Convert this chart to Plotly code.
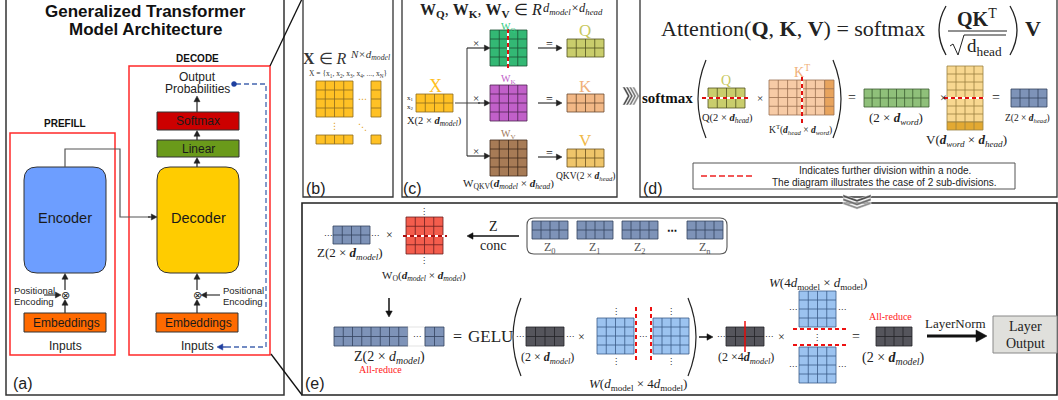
import math
import plotly.graph_objects as go

SANS = "Liberation Sans, Arial, sans-serif"
SERIF = "Liberation Serif, Times New Roman, serif"
SYM = "DejaVu Sans, sans-serif"

# ---------------- data (texts and matrix dimensions) ----------------
TITLE_LINES = ["Generalized Transformer", "Model Architecture"]
STAGE_LABELS = ["PREFILL", "DECODE"]
DECODER_STACK = ["Softmax", "Linear", "Decoder"]
ENCODER_LABEL = "Encoder"
EMBED_LABEL = "Embeddings"
POS_ENC_LINES = ["Positional", "Encoding"]
OUTPUT_LINES = ["Output", "Probabilities"]
INPUT_LABEL = "Inputs"
PANEL_LABELS = ["(a)", "(b)", "(c)", "(d)", "(e)"]
LEGEND_LINES = ["Indicates further division within a node.",
                "The diagram illustrates the case of 2 sub-divisions."]
ALL_REDUCE = "All-reduce"
Z_PARTS = ["Z<sub>0</sub>", "Z<sub>1</sub>", "Z<sub>2</sub>", "Z<sub>n</sub>"]
W_LABELS = ["W<sub>Q</sub>", "W<sub>K</sub>", "W<sub>V</sub>"]
QKV_LABELS = ["Q", "K", "V"]

MATRIX_NAMES = ["b_main", "b_col", "b_row", "b_cell",
                "c_X", "c_WQ", "c_WK", "c_WV", "c_Q", "c_K", "c_V",
                "d_Q", "d_KT", "d_KT_last", "d_S", "d_V", "d_V_last", "d_Z",
                "e_Z", "e_WO", "e_Z0", "e_Z1", "e_Z2", "e_Zn",
                "e_ZL_a", "e_ZL_b", "e_H", "e_W1a", "e_W1b",
                "e_H2", "e_W2a", "e_W2b", "e_out"]
MATRIX_ROWS = [4, 4, 1, 1,
               2, 4, 4, 4, 2, 2, 2,
               2, 4, 4, 2, 7, 1, 2,
               2, 4, 2, 2, 2, 2,
               2, 2, 2, 4, 4,
               2, 4, 4, 2]
MATRIX_COLS = [4, 1, 4, 1,
               4, 4, 4, 4, 4, 4, 4,
               4, 6, 1, 8, 4, 4, 4,
               4, 4, 4, 4, 4, 4,
               8, 2, 4, 4, 4,
               4, 4, 4, 4]

# ---------------- geometry / styles ----------------
BOX = {
    "b_main": (316, 81, 353, 117), "b_col": (371, 81, 381, 117),
    "b_row": (316, 135, 353, 144), "b_cell": (371, 135, 381, 144),
    "c_X": (416, 94, 453, 112),
    "c_WQ": (490, 30, 527, 66), "c_WK": (490, 85, 527, 121), "c_WV": (490, 140, 527, 176),
    "c_Q": (567, 39, 604, 57), "c_K": (567, 94, 604, 112), "c_V": (567, 149, 604, 167),
    "d_Q": (708, 88, 745, 108), "d_KT": (769, 80, 824.7, 115), "d_KT_last": (824.7, 80, 834, 115),
    "d_S": (864, 89, 929, 107), "d_V": (947, 66, 983, 122), "d_V_last": (947, 122, 983, 130),
    "d_Z": (1011, 89, 1047, 107),
    "e_Z": (333, 226, 370, 244), "e_WO": (406, 217, 443, 254),
    "e_Z0": (532, 221, 568, 239), "e_Z1": (577, 221, 613, 239),
    "e_Z2": (622, 221, 658, 239), "e_Zn": (687, 221, 723, 239),
    "e_ZL_a": (334, 327, 408, 346), "e_ZL_b": (425, 327, 444, 346),
    "e_H": (526, 327, 564, 346), "e_W1a": (597, 318, 634, 354), "e_W1b": (653, 318, 689, 354),
    "e_H2": (726, 327, 764, 346), "e_W2a": (799, 291, 836, 327), "e_W2b": (799, 347, 836, 383),
    "e_out": (876, 327, 912, 346),
}
YEL = ("#ffc125", "#8a6a20")
STYLE = {
    "b_main": YEL, "b_col": YEL, "b_row": YEL, "b_cell": YEL, "c_X": YEL,
    "c_WQ": ("#33b874", "#1d4f34"), "c_WK": ("#c160c9", "#4e2352"), "c_WV": ("#a77b56", "#3f2a1a"),
    "c_Q": ("#c9cd6c", "#505020"), "c_K": ("#f2b886", "#6a4a30"), "c_V": ("#efc56a", "#6a5020"),
    "d_Q": ("#c9cd6c", "#505020"), "d_KT": ("#f7cba6", "#9a7050"), "d_KT_last": ("#e8a45e", "#9a7050"),
    "d_S": ("#8fc07a", "#3a5a30"), "d_V": ("#f8d890", "#9a8040"), "d_V_last": ("#e2a932", "#9a8040"),
    "d_Z": ("#7e93b8", "#34435e"),
}
for _n in ["e_Z", "e_Z0", "e_Z1", "e_Z2", "e_Zn", "e_ZL_a", "e_ZL_b"]:
    STYLE[_n] = ("#7e93b8", "#34435e")
STYLE["e_WO"] = ("#f45d4d", "#6a2020")
for _n in ["e_H", "e_H2", "e_out"]:
    STYLE[_n] = ("#55555c", "#222226")
for _n in ["e_W1a", "e_W1b", "e_W2a", "e_W2b"]:
    STYLE[_n] = ("#9cc3f0", "#3a5a88")

shapes, annos = [], []


def rect(x0, y0, x1, y1, fill="rgba(0,0,0,0)", line="#222", w=1.0, dash="solid"):
    shapes.append(dict(type="rect", xref="x", yref="y", x0=x0, y0=y0, x1=x1, y1=y1,
                       fillcolor=fill, line=dict(color=line, width=w, dash=dash)))


def seg(x0, y0, x1, y1, color="#222", w=1.0, dash="solid"):
    shapes.append(dict(type="line", xref="x", yref="y", x0=x0, y0=y0, x1=x1, y1=y1,
                       line=dict(color=color, width=w, dash=dash)))


def path(d, fill=None, line="#222", w=1.0, dash="solid"):
    s = dict(type="path", xref="x", yref="y", path=d, line=dict(color=line, width=w, dash=dash))
    if fill:
        s["fillcolor"] = fill
    shapes.append(s)


def text(x, y, s, size, color="#222", family=SERIF, xa="center", ya="middle"):
    annos.append(dict(x=x, y=y, xref="x", yref="y", text=s, showarrow=False,
                      font=dict(size=size, color=color, family=family),
                      xanchor=xa, yanchor=ya, borderpad=0))


def arrow(x0, y0, x1, y1, color="#222", w=1.2, hl=None, hw=None):
    hl = hl if hl is not None else 4.5 + w
    hw = hw if hw is not None else 2.2 + w * 0.7
    dx, dy = x1 - x0, y1 - y0
    ln = math.hypot(dx, dy)
    ux, uy = dx / ln, dy / ln
    bx, by = x1 - ux * hl, y1 - uy * hl
    seg(x0, y0, bx + ux * 0.5, by + uy * 0.5, color, w)
    px, py = -uy, ux
    path(f"M{x1:.2f},{y1:.2f} L{bx+px*hw:.2f},{by+py*hw:.2f} L{bx-px*hw:.2f},{by-py*hw:.2f} Z",
         color, color, 0.5)


def rrect(x0, y0, x1, y1, r):
    return (f"M{x0+r},{y0} L{x1-r},{y0} Q{x1},{y0} {x1},{y0+r} L{x1},{y1-r} "
            f"Q{x1},{y1} {x1-r},{y1} L{x0+r},{y1} Q{x0},{y1} {x0},{y1-r} "
            f"L{x0},{y0+r} Q{x0},{y0} {x0+r},{y0} Z")


def grid(name):
    i = MATRIX_NAMES.index(name)
    nr, nc = MATRIX_ROWS[i], MATRIX_COLS[i]
    x0, y0, x1, y1 = BOX[name]
    fill, lc = STYLE[name]
    rect(x0, y0, x1, y1, fill, lc, 0.8)
    d = ""
    for k in range(1, nc):
        x = x0 + (x1 - x0) * k / nc
        d += f"M{x:.2f},{y0} L{x:.2f},{y1} "
    for k in range(1, nr):
        y = y0 + (y1 - y0) * k / nr
        d += f"M{x0},{y:.2f} L{x1},{y:.2f} "
    if d:
        path(d, None, lc, 0.8)


def red_dash(x0, y0, x1, y1, color="#e01010", w=2.0):
    seg(x0, y0, x1, y1, "white", w)
    seg(x0, y0, x1, y1, color, w, "4px,3px")


def dots(x, y, kind="h", color="#222", size=10):
    ch = {"h": "⋯", "v": "⋮", "d": "⋱"}[kind]
    text(x, y, ch, size, color, SYM)


def dsub(base, sub, bold=True):
    b = f"<b>{base}</b>" if bold else base
    return f"<i>{b}</i><sub><i>{sub}</i></sub>"


# ================= panel (a) =================
rect(6, -2, 284, 395, line="#333", w=1.5)
text(145, 11, f"<b>{TITLE_LINES[0]}</b>", 17, "#111", SANS)
text(145, 29, f"<b>{TITLE_LINES[1]}</b>", 17, "#111", SANS)
text(65, 123, f"<b>{STAGE_LABELS[0]}</b>", 10, "#111", SANS)
text(197, 58, f"<b>{STAGE_LABELS[1]}</b>", 10, "#111", SANS)
rect(10, 133, 115, 355, line="#ff2a2a", w=1.5)
rect(129, 66, 270, 355, line="#ff2a2a", w=1.5)
text(197, 77, OUTPUT_LINES[0], 12, "#222", SANS)
text(197, 89, OUTPUT_LINES[1], 12, "#222", SANS)
# feedback dashed line
path("M236,84 L266,84 L266,347 L224,347", None, "#4466b0", 1.3, "5px,3px")
arrow(226, 347, 217, 347, "#1f3f9f", 1.3)
shapes.append(dict(type="circle", xref="x", yref="y", x0=231.5, y0=81.5, x1=236.5, y1=86.5,
                   fillcolor="#1f3f9f", line=dict(color="#1f3f9f", width=0.5)))
# decoder stack
arrow(197, 112, 197, 96)
arrow(197, 140, 197, 130.5)
arrow(197, 167, 197, 157.5)
rect(157, 112, 239, 130, "#cc0000", "#333", 1)
text(198, 121, DECODER_STACK[0], 12, "#1a1a1a", SANS)
rect(157, 140, 239, 157, "#6a9a1a", "#333", 1)
text(198, 148.5, DECODER_STACK[1], 12, "#1a1a1a", SANS)
path(rrect(157, 167, 239, 273, 13), "#ffcc00", "#333", 1)
text(198, 218, DECODER_STACK[2], 14.5, "#1a1a1a", SANS)
path(rrect(24, 167, 106, 273, 13), "#6d9eff", "#333", 1)
text(65, 218, ENCODER_LABEL, 14.5, "#1a1a1a", SANS)
path("M65,167 L65,149 L120,149 L120,217 L150,217", None, "#555", 1.2)
arrow(148, 217, 157, 217, "#222", 1.2)
for cx in [65, 197]:
    text(cx, 295, "⊗", 11, "#222", SYM)
    arrow(cx, 290, cx, 273.5, "#222", 1.2)
    arrow(cx, 313, cx, 299.5, "#222", 1.2)
    rect(cx - 41, 313, cx + 41, 332, "#ff6a00", "#333", 1)
    text(cx + 1, 322.5, EMBED_LABEL, 12, "#1a1a1a", SANS)
    text(cx, 346, INPUT_LABEL, 12, "#222", SANS)
text(13, 290, POS_ENC_LINES[0], 9.5, "#222", SANS, "left")
text(13, 301, POS_ENC_LINES[1], 9.5, "#222", SANS, "left")
arrow(44, 295, 61, 295, "#222", 1.1)
text(222, 290, POS_ENC_LINES[0], 9.5, "#222", SANS, "left")
text(222, 301, POS_ENC_LINES[1], 9.5, "#222", SANS, "left")
arrow(220, 295, 201, 295, "#222", 1.1)
text(23, 383, PANEL_LABELS[0], 16, "#222", SANS)
seg(270, 66, 302, -1, "#111", 1.3)
seg(271, 354, 302, 395, "#111", 1.3)

# ================= panel (b) =================
rect(303, -2, 393, 197, line="#333", w=1.3)
text(348, 58.5, "<b>X</b> ∈ <i>R</i>", 16, "#333", SERIF, "right")
text(349, 54.5, "<i>N×d<sub>model</sub></i>", 11, "#333", SERIF, "left")
text(348, 73.5, "X = {x<sub>1</sub>, x<sub>2</sub>, x<sub>3</sub>, x<sub>4</sub>, ..., x<sub>N</sub>}",
     7.5, "#333", SERIF)
for n in ["b_main", "b_col", "b_row", "b_cell"]:
    grid(n)
dots(362, 99, "h", "#e0a020", 9)
dots(334, 126, "v", "#e0a020", 9)
dots(362, 127, "d", "#e0a020", 9)
text(316, 188, PANEL_LABELS[1], 16, "#222", SANS)

# ================= panel (c) =================
rect(402, -2, 617, 197, line="#333", w=1.3)
text(511, 0.3, "<b>W</b><sub><b>Q</b></sub>, <b>W</b><sub><b>K</b></sub>, <b>W</b><sub><b>V</b></sub>",
     16, "#222", SERIF, "right", "top")
text(513, 0.3, "∈ <i>R</i>", 16, "#222", SERIF, "left", "top")
text(542, 0.3, "<i>d<sub>model</sub>×d<sub>head</sub></i>", 12.5, "#222", SERIF, "left", "top")
text(435, 86, "X", 18, "#ffbf1f", SERIF)
grid("c_X")
text(410, 98, "x<sub>1</sub>", 7, "#222", SERIF)
text(410, 107, "x<sub>2</sub>", 7, "#222", SERIF)
text(434, 121, "X(2 × " + dsub("d", "model") + ")", 10.5, "#222", SERIF)
path("M455,103 L480,103 M467,48 L467,156", None, "#444", 1.1)
for yy in [48, 103, 156]:
    arrow(467 if yy != 103 else 478, yy, 490, yy, "#222", 1.1)
    text(476, yy - 5, "×", 11, "#222", SERIF)
for n in ["c_WQ", "c_WK", "c_WV"]:
    grid(n)
red_dash(508, 29, 508, 68)
W_COLORS = ["#2ecc80", "#c060c8", "#a0785a"]
for lbl, yy, col in zip(W_LABELS, [27, 79, 134], W_COLORS):
    text(508, yy, lbl, 10, col, SERIF)
text(508, 184, "W<sub>QKV</sub>(" + dsub("d", "model") + " × " + dsub("d", "head") + ")", 11, "#222", SERIF)
for yy in [48, 103, 157]:
    arrow(538, yy, 562, yy, "#222", 1.1)
    text(549, yy - 4, "=", 12, "#222", SERIF)
for n in ["c_Q", "c_K", "c_V"]:
    grid(n)
QKV_COLORS = ["#c8c860", "#f0b07a", "#f0b848"]
for lbl, yy, col in zip(QKV_LABELS, [30, 86, 140], QKV_COLORS):
    text(585, yy, lbl, 17, col, SERIF)
text(585, 176, "QKV(2 × " + dsub("d", "head") + ")", 9.5, "#222", SERIF)
text(412, 188, PANEL_LABELS[2], 16, "#222", SANS)

# chevrons c -> d
for k, col in enumerate(["#4a4a4a", "#606060", "#787878", "#909090"]):
    x = 622.5 + k * 3.2
    path(f"M{x},87 L{x+5},96 L{x},105 L{x+2.4},105 L{x+7.4},96 L{x+2.4},87 Z", col, "#ffffff", 0.5)

# ================= panel (d) =================
rect(640, -2, 1057, 197, line="#333", w=1.3)
text(926, 28, "Attention(<b>Q</b>, <b>K</b>, <b>V</b>) = softmax", 22, "#222", SERIF, "right")
path("M946,6 Q932,30 946,55", None, "#222", 1.3)
text(977, 18, "<b>QK</b><sup>T</sup>", 20, "#222", SERIF)
seg(948, 31, 1007, 31, "#222", 1.0)
path("M950,46 L953,44 L958,55 L964,35 L1006,35", None, "#222", 1.0)
text(984, 47, "d<sub>head</sub>", 19, "#222", SERIF)
path("M1010,6 Q1024,30 1010,55", None, "#222", 1.3)
text(1033, 28, "<b>V</b>", 22, "#222", SERIF)

text(667, 98, "<b>softmax</b>", 15, "#111", SERIF)
path("M706,60 Q690,99 706,138", None, "#222", 1.2)
path("M833,60 Q849,99 833,138", None, "#222", 1.2)
text(726, 80, "Q", 14, "#c8c860", SERIF)
grid("d_Q")
red_dash(702, 98, 749, 98)
text(727, 118, "Q(2 × " + dsub("d", "head") + ")", 10.5, "#222", SERIF)
text(760, 98, "×", 11, "#222", SERIF)
text(802, 71, "K<sup>T</sup>", 14, "#f0b07a", SERIF)
grid("d_KT")
grid("d_KT_last")
red_dash(802, 77, 802, 124)
text(800, 129, "K<sup>T</sup>(" + dsub("d", "head") + " × " + dsub("d", "word") + ")", 9.5, "#222", SERIF)
text(852, 97, "=", 14, "#222", SERIF)
grid("d_S")
text(896, 118, "(2 × " + dsub("d", "word") + ")", 13, "#222", SERIF)
text(943, 98, "×", 12, "#222", SERIF)
grid("d_V")
grid("d_V_last")
red_dash(944, 98, 986, 98)
text(966, 140, "V(" + dsub("d", "word") + " × " + dsub("d", "head") + ")", 13, "#222", SERIF)
text(996, 97, "=", 14, "#222", SERIF)
grid("d_Z")
text(1027, 118, "Z(2 × " + dsub("d", "head") + ")", 9.5, "#222", SERIF)
rect(693, 163, 1015, 189, "white", "#555", 1)
seg(701, 176, 752, 176, "#ee2222", 1.5, "6px,3px")
text(885, 170, LEGEND_LINES[0], 10, "#222", SANS)
text(884, 182, LEGEND_LINES[1], 10, "#222", SANS)
text(653, 188, PANEL_LABELS[3], 16, "#222", SANS)

# ================= panel (e) =================
rect(302, 203, 1057, 395, line="#222", w=1.6)
# chevrons d -> e
for k, col in enumerate(["#505050", "#707070", "#909090"]):
    y = 194.5 + k * 3.6
    path(f"M843,{y} L857,{y+5} L871,{y} L871,{y+2.6} L857,{y+7.6} L843,{y+2.6} Z", col, "#ffffff", 0.5)

grid("e_Z")
dots(328, 235, "h", "#222", 8)
dots(375, 235, "h", "#222", 8)
text(389, 235, "×", 12, "#222", SERIF)
text(350, 253, "Z(2 × " + dsub("d", "model") + ")", 13, "#222", SERIF)
grid("e_WO")
red_dash(403, 236, 447, 236, "#b01010", 2)
dots(424, 211, "v", "#222", 8)
dots(424, 260, "v", "#222", 8)
text(424, 276, "W<sub>O</sub>(" + dsub("d", "model") + " × " + dsub("d", "model") + ")", 11, "#222", SERIF)
arrow(519, 236, 467, 236, "#111", 1.5)
text(493, 226, "Z", 14, "#222", SERIF)
text(493, 245, "conc", 14, "#222", SERIF)
path(rrect(527, 218, 727, 254, 7), None, "#555", 1.1)
for n, lbl in zip(["e_Z0", "e_Z1", "e_Z2", "e_Zn"], Z_PARTS):
    grid(n)
    x0, y0, x1, y1 = BOX[n]
    text((x0 + x1) / 2, 248, lbl, 12, "#555", SERIF)
text(672, 230, "<b>⋯</b>", 10, "#111", SYM)
arrow(389, 298, 389, 317, "#111", 1.5)
grid("e_ZL_a")
rect(408, 327, 425, 346, "white", "#d0d0d0", 0.6)
dots(416.5, 336, "h", "#222", 8)
grid("e_ZL_b")
text(389, 357, "Z(2 × <i>d</i><sub><i>model</i></sub>)", 14, "#222", SERIF)
text(380, 369, ALL_REDUCE, 10, "#ff2020", SERIF)
text(457, 336, "=", 16, "#222", SERIF)
text(490, 336, "GELU", 17, "#222", SERIF)
path("M521,298 Q505,337 521,376", None, "#222", 1.2)
path("M688,298 Q704,337 688,376", None, "#222", 1.2)
grid("e_H")
dots(520, 336, "h", "#222", 8)
dots(570, 336, "h", "#222", 8)
text(581, 337, "×", 12, "#222", SERIF)
text(547, 358, "(2 × " + dsub("d", "model") + ")", 12, "#222", SERIF)
grid("e_W1a")
grid("e_W1b")
dots(643, 336, "h", "#222", 8)
for xx in [616, 671]:
    dots(xx, 311, "v", "#222", 8)
    dots(xx, 361, "v", "#222", 8)
red_dash(636, 307, 636, 363, "#ee1111", 2)
red_dash(651, 307, 651, 363, "#ee1111", 2)
text(638, 384, "<i>W</i>(<i>d</i><sub>model</sub> × 4<i>d</i><sub>model</sub>)", 13, "#222", SERIF)
arrow(699, 337, 713, 337, "#111", 1.5)
grid("e_H2")
dots(721, 336, "h", "#222", 8)
dots(769, 336, "h", "#222", 8)
seg(745, 321, 745, 352, "#ee1111", 1.5)
text(746, 358, "(2 ×4" + dsub("d", "model") + ")", 12, "#222", SERIF)
text(781, 337, "×", 12, "#222", SERIF)
grid("e_W2a")
grid("e_W2b")
for yy in [309, 366]:
    dots(793, yy, "h", "#222", 8)
    dots(842, yy, "h", "#222", 8)
red_dash(793, 329, 846, 329, "#ee1111", 2)
red_dash(793, 345, 846, 345, "#ee1111", 2)
dots(817, 337, "v", "#222", 8)
text(818, 283, "<i>W</i>(4<i>d</i><sub>model</sub> × <i>d</i><sub>model</sub>)", 13, "#222", SERIF)
text(856, 336, "=", 14, "#222", SERIF)
grid("e_out")
text(890, 316, ALL_REDUCE, 10, "#ff2020", SERIF)
text(893, 358, "(2 × " + dsub("d", "model") + ")", 14, "#222", SERIF)
text(955, 323, "LayerNorm", 13, "#222", SERIF)
arrow(927, 336, 987, 336, "#111", 3, 11, 6)
rect(993, 316, 1057, 353, "#e0e0dc", "#888", 1)
text(1025, 326, "Layer", 14, "#222", SERIF)
text(1025, 343, "Output", 14, "#222", SERIF)
text(315, 383, PANEL_LABELS[4], 16, "#222", SANS)

fig = go.Figure()
fig.add_trace(go.Scatter(x=[0, 1058], y=[0, 400], mode="markers",
                         marker=dict(opacity=0), hoverinfo="skip", showlegend=False))
fig.update_layout(
    width=1058, height=400, margin=dict(l=0, r=0, t=0, b=0),
    paper_bgcolor="white", plot_bgcolor="white",
    xaxis=dict(range=[0, 1058], visible=False, fixedrange=True),
    yaxis=dict(range=[400, 0], visible=False, fixedrange=True),
    shapes=shapes, annotations=annos, showlegend=False,
)
fig.write_html("out.html", config={"displayModeBar": False},
               post_script="document.body.style.margin='0px';document.body.style.padding='0px';")
